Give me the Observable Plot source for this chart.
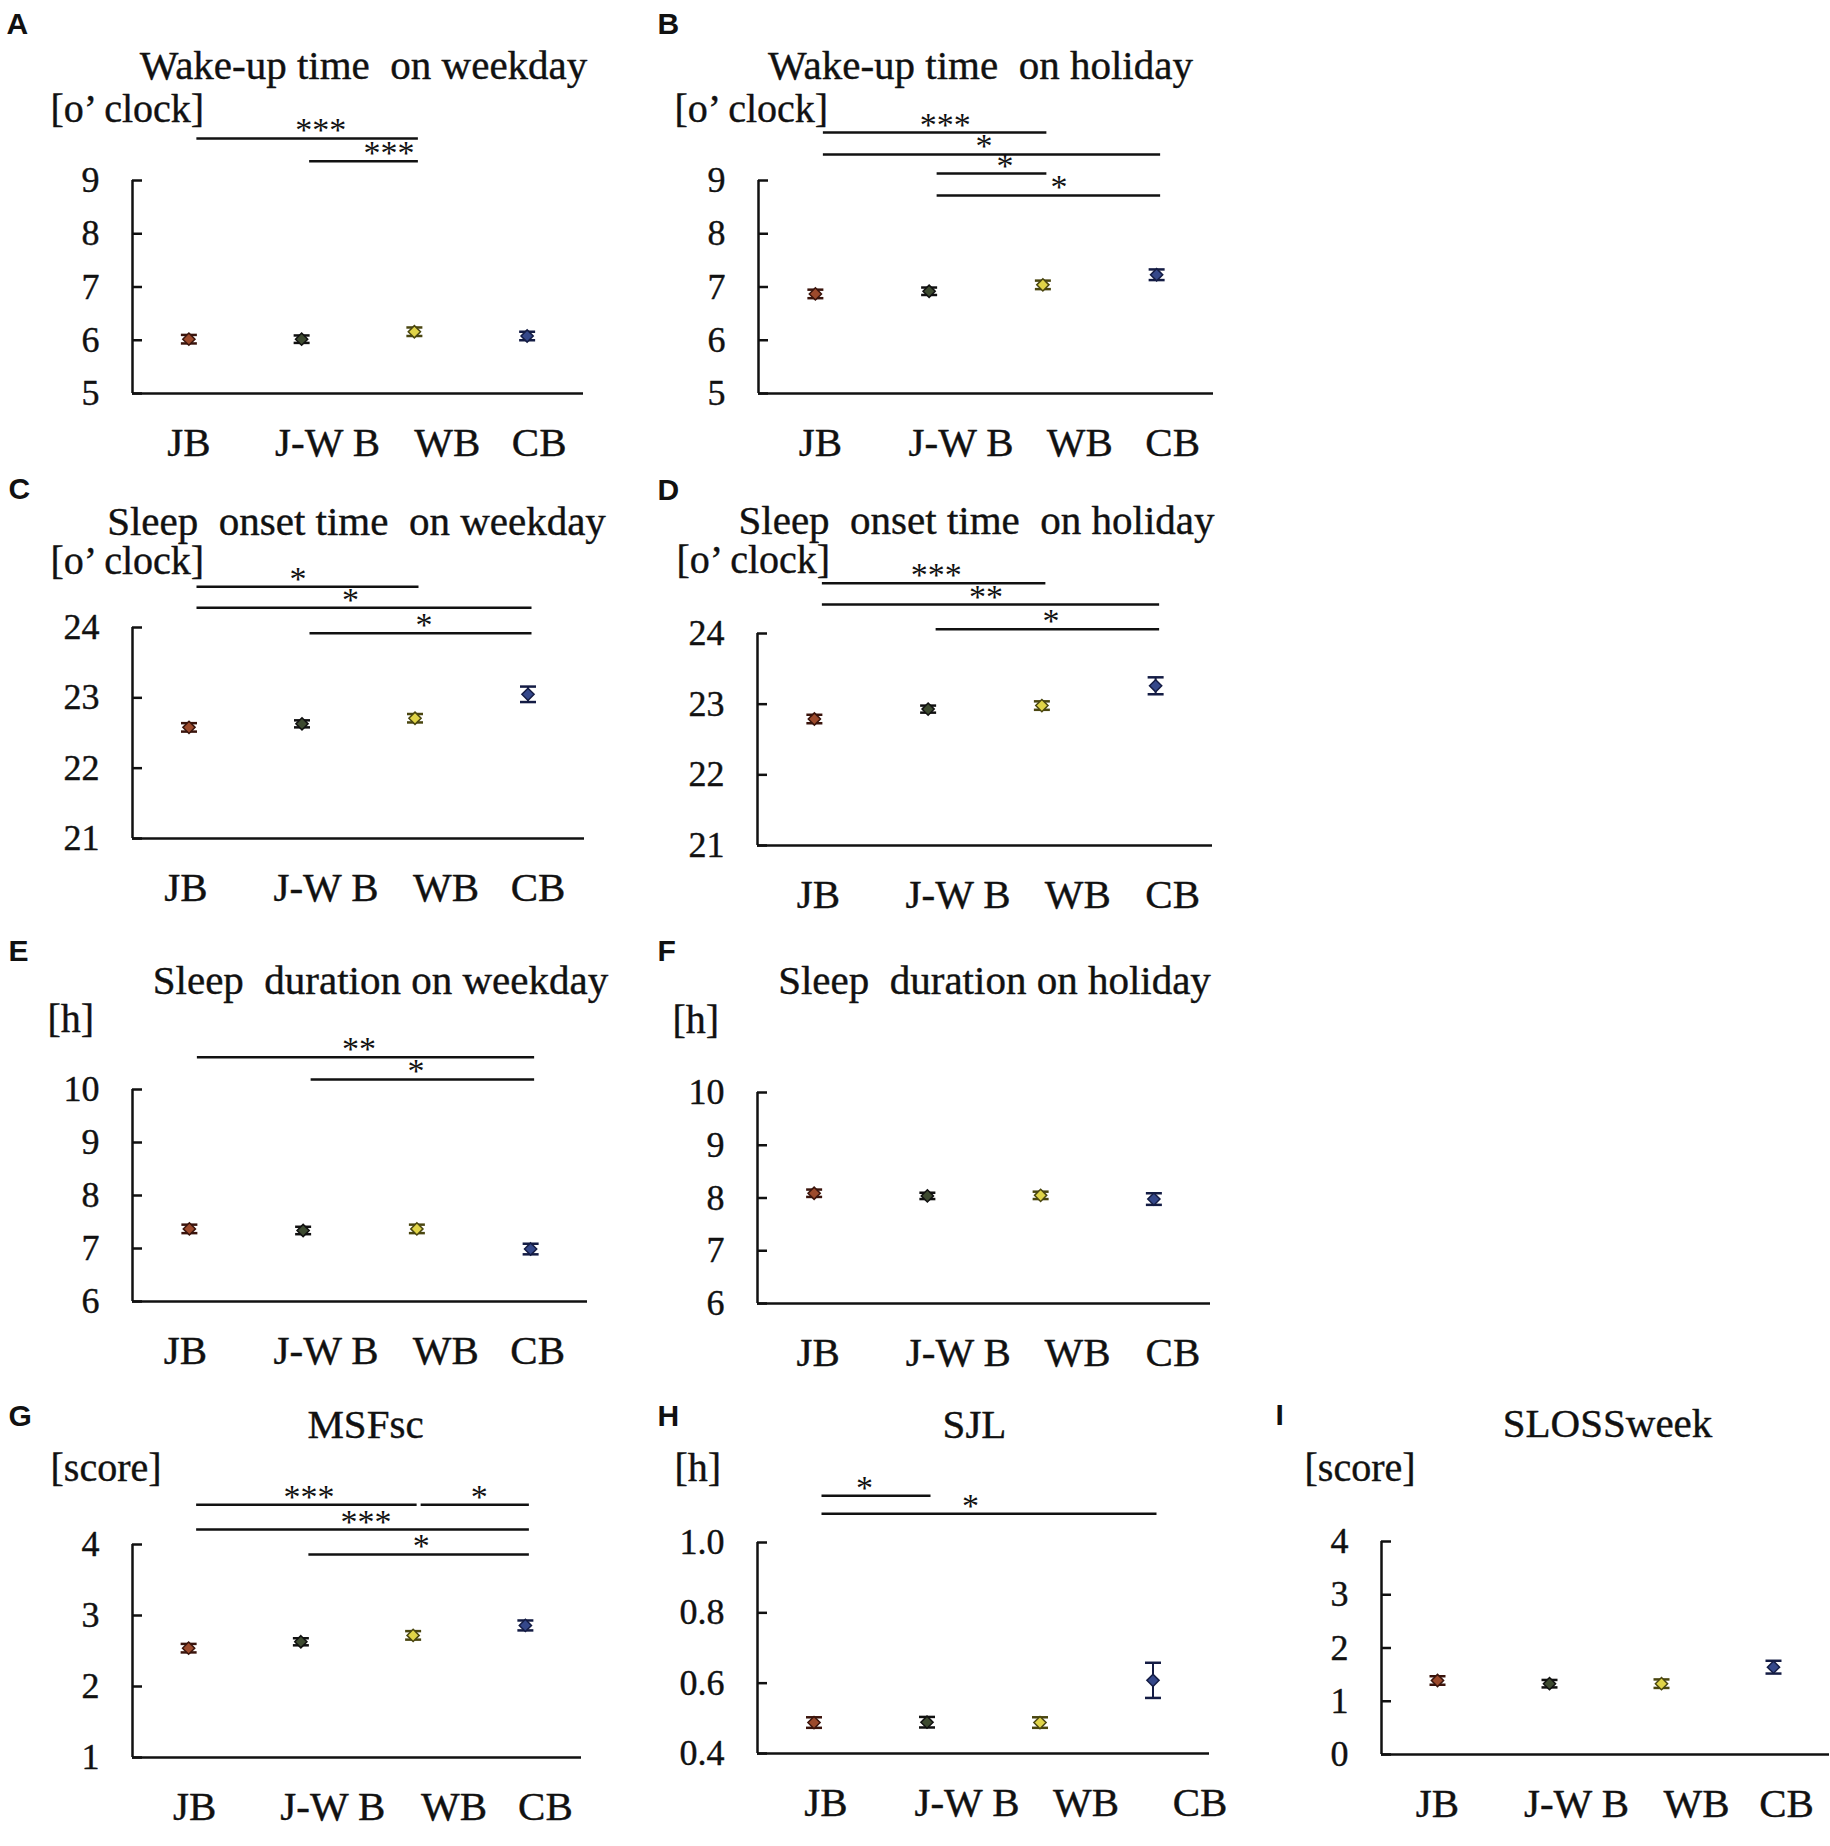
<!DOCTYPE html>
<html>
<head>
<meta charset="utf-8">
<script src="https://cdn.jsdelivr.net/npm/d3@7"></script>
<script src="https://cdn.jsdelivr.net/npm/@observablehq/plot@0.6"></script>
<style>
html, body { margin: 0; padding: 0; background: #fff; overflow: hidden; }
#root { position: relative; width: 1830px; height: 1846px; background: #fff; overflow: hidden; }
#root svg { position: absolute; overflow: visible; max-width: none; }
</style>
</head>
<body>
<div id="root"></div>
<script>
// ---- categories and colours ----
const groups = ["JB", "J-W B", "WB", "CB"];
const markerFill = ["#9c4a2c", "#3d4a30", "#e0d448", "#35488a"];
const markerStroke = ["#3a140c", "#111111", "#4a4610", "#141c44"];

// ---- A: wake-up time on weekday ----
const wakeWeekday = [6.02, 6.02, 6.16, 6.08];
const wakeWeekdayErr = [0.08, 0.07, 0.08, 0.08];
const wakeWeekdaySig = [["JB", "WB", "***", 9.79], ["J-W B", "WB", "***", 9.36]];

// ---- B: wake-up time on holiday ----
const wakeHoliday = [6.87, 6.92, 7.04, 7.23];
const wakeHolidayErr = [0.08, 0.07, 0.08, 0.10];
const wakeHolidaySig = [["JB", "WB", "***", 9.90], ["JB", "CB", "*", 9.49], ["J-W B", "WB", "*", 9.13], ["J-W B", "CB", "*", 8.72]];

// ---- C: sleep onset time on weekday ----
const onsetWeekday = [22.58, 22.63, 22.71, 23.05];
const onsetWeekdayErr = [0.06, 0.05, 0.06, 0.11];
const onsetWeekdaySig = [["JB", "WB", "*", 24.58], ["JB", "CB", "*", 24.28], ["J-W B", "CB", "*", 23.92]];

// ---- D: sleep onset time on holiday ----
const onsetHoliday = [22.79, 22.93, 22.98, 23.26];
const onsetHolidayErr = [0.06, 0.05, 0.06, 0.12];
const onsetHolidaySig = [["JB", "WB", "***", 24.71], ["JB", "CB", "**", 24.41], ["J-W B", "CB", "*", 24.06]];

// ---- E: sleep duration on weekday ----
const durWeekday = [7.37, 7.34, 7.37, 6.99];
const durWeekdayErr = [0.08, 0.07, 0.08, 0.10];
const durWeekdaySig = [["JB", "CB", "**", 10.61], ["J-W B", "CB", "*", 10.19]];

// ---- F: sleep duration on holiday ----
const durHoliday = [8.09, 8.04, 8.05, 7.98];
const durHolidayErr = [0.07, 0.06, 0.07, 0.11];
const durHolidaySig = [];

// ---- G: MSFsc ----
const msfsc = [2.54, 2.63, 2.72, 2.86];
const msfscErr = [0.06, 0.05, 0.06, 0.07];
const msfscSig = [["JB", "WB", "***", 4.56], ["WB", "CB", "*", 4.56], ["JB", "CB", "***", 4.21], ["J-W B", "CB", "*", 3.86]];

// ---- H: SJL ----
const sjl = [0.488, 0.489, 0.488, 0.608];
const sjlErr = [0.015, 0.015, 0.015, 0.05];
const sjlSig = [["JB", "J-W B", "*", 1.133], ["JB", "CB", "*", 1.082]];

// ---- I: SLOSSweek ----
const sloss = [1.39, 1.33, 1.33, 1.64];
const slossErr = [0.08, 0.07, 0.08, 0.12];
const slossSig = [];

// ---- tick values ----
const ticksWake = [5, 6, 7, 8, 9];
const ticksOnset = [21, 22, 23, 24];
const ticksDur = [6, 7, 8, 9, 10];
const ticksMsf = [1, 2, 3, 4];
const ticksSjl = [0.4, 0.6, 0.8, 1.0];
const ticksSloss = [0, 1, 2, 3, 4];

const panels = [
  {id: "A", title: "Wake-up time\u00a0 on weekday", unit: "[o\u2019 clock]", values: wakeWeekday, errors: wakeWeekdayErr, sig: wakeWeekdaySig, ticks: ticksWake},
  {id: "B", title: "Wake-up time\u00a0 on holiday", unit: "[o\u2019 clock]", values: wakeHoliday, errors: wakeHolidayErr, sig: wakeHolidaySig, ticks: ticksWake},
  {id: "C", title: "Sleep\u00a0 onset time\u00a0 on weekday", unit: "[o\u2019 clock]", values: onsetWeekday, errors: onsetWeekdayErr, sig: onsetWeekdaySig, ticks: ticksOnset},
  {id: "D", title: "Sleep\u00a0 onset time\u00a0 on holiday", unit: "[o\u2019 clock]", values: onsetHoliday, errors: onsetHolidayErr, sig: onsetHolidaySig, ticks: ticksOnset},
  {id: "E", title: "Sleep\u00a0 duration on weekday", unit: "[h]", values: durWeekday, errors: durWeekdayErr, sig: durWeekdaySig, ticks: ticksDur},
  {id: "F", title: "Sleep\u00a0 duration on holiday", unit: "[h]", values: durHoliday, errors: durHolidayErr, sig: durHolidaySig, ticks: ticksDur},
  {id: "G", title: "MSFsc", unit: "[score]", values: msfsc, errors: msfscErr, sig: msfscSig, ticks: ticksMsf},
  {id: "H", title: "SJL", unit: "[h]", values: sjl, errors: sjlErr, sig: sjlSig, ticks: ticksSjl, format: ".1f"},
  {id: "I", title: "SLOSSweek", unit: "[score]", values: sloss, errors: slossErr, sig: slossSig, ticks: ticksSloss}
];

// ---- page layout (pixels): frame, text anchors, per-label and per-star nudges ----
const layout = {
  A: {frame: [132, 583, 180, 393], letter: [6, 33], title: [363, 78], unit: [50, 121], labelDx: [0, 26, 33, 12], starDx: [19, 31]},
  B: {frame: [758, 1213, 180, 393], letter: [657, 33], title: [980, 78], unit: [674, 121], labelDx: [5, 32, 37, 16], starDx: [16, -2, 19, 16]},
  C: {frame: [132, 584, 627, 838], letter: [8, 498], title: [356, 534], unit: [50, 573], labelDx: [-3, 24, 31, 10], starDx: [-4, -8, 9]},
  D: {frame: [757, 1212, 633, 845], letter: [657, 499], title: [976, 533], unit: [676, 572], labelDx: [4, 30, 36, 17], starDx: [8, 1, 9]},
  E: {frame: [132, 587, 1089, 1301], letter: [8, 960], title: [380, 993], unit: [47, 1031], labelDx: [-4, 23, 29, 7], starDx: [-1, -1]},
  F: {frame: [757, 1210, 1092, 1303], letter: [657, 960], title: [994, 993], unit: [672, 1032], labelDx: [4, 31, 37, 19], starDx: []},
  G: {frame: [132, 581, 1544, 1757], letter: [8, 1425], title: [365, 1437], unit: [50, 1480], labelDx: [6, 32, 41, 20], starDx: [8, 10, 9, 8]},
  H: {frame: [757, 1209, 1542, 1753], letter: [657, 1425], title: [974, 1437], unit: [674, 1480], labelDx: [12, 40, 46, 47], starDx: [-6, -13]},
  I: {frame: [1381, 1829, 1541, 1754], letter: [1275, 1424], title: [1607, 1436], unit: [1304, 1480], labelDx: [0, 27, 35, 13], starDx: []}
};

const serif = "'Liberation Serif', 'Times New Roman', Times, serif";
const sans = "'Liberation Sans', Arial, Helvetica, sans-serif";
const ink = "#111";

// horizontal cap for error bars
const capSymbol = {
  draw(context, size) {
    const r = Math.sqrt(size / Math.PI);
    context.moveTo(-r, 0);
    context.lineTo(r, 0);
  }
};

const root = document.getElementById("root");

function drawPanel(p) {
  const L = layout[p.id];
  const [x0, x1, y0, y1] = L.frame;
  const mL = 130, mR = 20, mT = 190, mB = 80;
  const yDomain = [p.ticks[0], p.ticks[p.ticks.length - 1]];
  const rows = groups.map((g, i) => ({i, g, v: p.values[i], e: p.errors[i]}));
  const sig = p.sig.map(([a, b, label, level], k) => ({a: groups.indexOf(a), b: groups.indexOf(b), label, level, k}));
  const fmt = p.format ? d3.format(p.format) : d3.format("d");

  // one axis mark per category label so each label can take its own nudge
  const labelAxes = groups.map((g, i) =>
    Plot.axisX([i], {anchor: "bottom", tickSize: 0, tickPadding: 33, fontSize: 41, tickFormat: (d) => groups[d], dx: L.labelDx[i], textStroke: ink, textStrokeWidth: 0.4})
  );
  // one text mark per star label for the same reason
  const starMarks = sig.map((s) =>
    Plot.text([s], {x: (d) => (d.a + d.b) / 2, y: "level", text: "label", fontSize: 34, lineAnchor: "bottom", dy: 3, dx: L.starDx[s.k] || 0, fill: ink})
  );

  const svg = Plot.plot({
    width: x1 - x0 + mL + mR,
    height: y1 - y0 + mT + mB,
    marginLeft: mL, marginRight: mR, marginTop: mT, marginBottom: mB,
    style: {fontFamily: serif, background: "transparent", overflow: "visible", color: ink},
    x: {domain: [-0.5, 3.5]},
    y: {domain: yDomain},
    color: {type: "identity"},
    marks: [
      Plot.axisY(p.ticks, {anchor: "left", tickSize: -10, tickPadding: 43, strokeWidth: 2.5, fontSize: 36, tickFormat: fmt, textStroke: ink, textStrokeWidth: 0.4}),
      ...labelAxes,
      Plot.ruleX([-0.5], {y1: yDomain[0], y2: yDomain[1], strokeWidth: 2.5}),
      Plot.ruleY([yDomain[0]], {x1: -0.5, x2: 3.5, strokeWidth: 2.5}),
      Plot.ruleY(sig, {y: "level", x1: "a", x2: "b", strokeWidth: 2.5, insetLeft: 8, insetRight: -4}),
      ...starMarks,
      Plot.ruleX(rows, {x: "i", y1: (d) => d.v - d.e, y2: (d) => d.v + d.e, stroke: (d) => markerStroke[d.i], strokeWidth: 2}),
      Plot.dot(rows, {x: "i", y: (d) => d.v - d.e, symbol: capSymbol, r: 8, fill: "none", stroke: (d) => markerStroke[d.i], strokeWidth: 2.5}),
      Plot.dot(rows, {x: "i", y: (d) => d.v + d.e, symbol: capSymbol, r: 8, fill: "none", stroke: (d) => markerStroke[d.i], strokeWidth: 2.5}),
      Plot.dot(rows, {x: "i", y: "v", symbol: "diamond2", r: 5.5, fill: (d) => markerFill[d.i], stroke: (d) => markerStroke[d.i], strokeWidth: 1.5}),
      Plot.text([p.id], {frameAnchor: "top-left", dx: L.letter[0] - x0, dy: L.letter[1] - y0, text: (d) => d, textAnchor: "start", lineAnchor: "bottom", fontFamily: sans, fontWeight: "bold", fontSize: 30, fill: ink}),
      Plot.text([p.title], {frameAnchor: "top-left", dx: L.title[0] - x0, dy: L.title[1] - y0, text: (d) => d, textAnchor: "middle", lineAnchor: "bottom", fontSize: 41, fill: ink, stroke: ink, strokeWidth: 0.4}),
      Plot.text([p.unit], {frameAnchor: "top-left", dx: L.unit[0] - x0, dy: L.unit[1] - y0, text: (d) => d, textAnchor: "start", lineAnchor: "bottom", fontSize: 40, fill: ink, stroke: ink, strokeWidth: 0.4})
    ]
  });
  svg.style.left = (x0 - mL) + "px";
  svg.style.top = (y0 - mT) + "px";
  root.appendChild(svg);
}

panels.forEach(drawPanel);
</script>
</body>
</html>
